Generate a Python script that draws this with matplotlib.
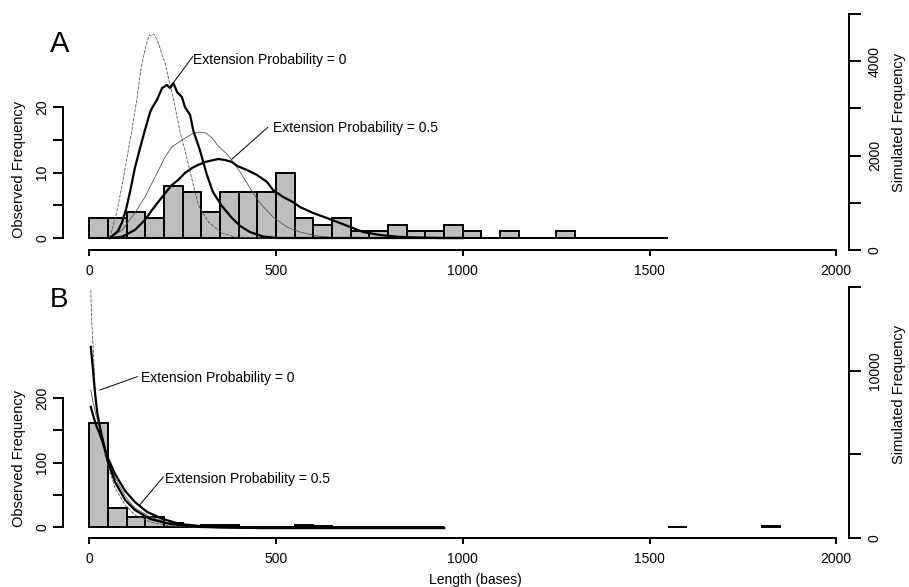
import numpy as np
import matplotlib
matplotlib.use('Agg')
import matplotlib.pyplot as plt

plt.rcParams['font.family'] = ['Liberation Sans', 'DejaVu Sans']

# Наблюдаемые частоты (бины по 50 оснований)
bin_width = 50
obs_a = [3, 3, 4, 3, 8, 7, 4, 7, 7, 7, 10, 3, 2, 3, 1, 1, 2, 1, 1, 2,
         1, 0, 1, 0, 0, 1, 0, 0, 0, 0, 0]
obs_b = [162, 29, 16, 16, 7, 2, 4, 3, 1, 1, 1, 4, 2, 0, 1, 1, 0, 1, 1]
obs_b_extra_start = [1550, 1800]
obs_b_extra = [1, 2]

# Смоделированные частоты, панель A
a_p0_thin_x = [55, 73, 87, 100, 114, 127, 138, 145, 152, 161, 165, 173, 179, 185,
               195, 203, 213, 225, 234, 243, 256, 274, 292, 319, 355, 390, 475, 1000]
a_p0_thin_y = [254, 784, 1335, 1907, 2542, 3178, 3814, 4089, 4343, 4555, 4534, 4576,
               4492, 4386, 4131, 3962, 3602, 3220, 2860, 2500, 2119, 1525, 953, 593,
               360, 275, 254, 254]
a_p0_x = [55, 77, 88, 98, 109, 122, 136, 149, 163, 168, 181, 195, 208, 216, 225,
          235, 248, 256, 270, 278, 296, 315, 331, 355, 382, 404, 430, 465, 503, 1000]
a_p0_y = [254, 403, 593, 847, 1229, 1737, 2161, 2542, 2924, 3008, 3178, 3432, 3496,
          3432, 3538, 3347, 3242, 3030, 2860, 2542, 2119, 1589, 1229, 932, 678, 508,
          381, 286, 254, 254]
a_p05_thin_x = [55, 88, 122, 149, 176, 203, 221, 248, 275, 296, 312, 329, 345, 371,
                404, 430, 457, 492, 529, 564, 610, 653, 744, 1000]
a_p05_thin_y = [254, 424, 784, 1123, 1547, 1970, 2182, 2331, 2458, 2500, 2479, 2373,
                2203, 2013, 1653, 1314, 996, 699, 487, 381, 297, 265, 254, 254]
a_p05_x = [55, 88, 122, 149, 168, 195, 221, 238, 256, 275, 291, 310, 345, 363, 382,
           396, 422, 449, 476, 492, 519, 545, 564, 599, 636, 671, 706, 733, 778, 824,
           859, 939, 1000]
a_p05_y = [254, 282, 424, 636, 847, 1123, 1377, 1483, 1631, 1737, 1801, 1864, 1928,
           1907, 1864, 1780, 1695, 1589, 1441, 1271, 1123, 1017, 911, 784, 678, 572,
           466, 381, 318, 282, 269, 254, 254]

# Смоделированные частоты, панель B
b_p0_thin_x = [4, 6, 11, 15, 21, 29, 39, 50, 69, 96, 122, 163, 216, 296, 457, 950]
b_p0_thin_y = [14842, 13164, 11127, 9150, 7352, 6334, 5255, 4297, 2979, 1960, 1361,
               941, 701, 611, 581, 581]
b_p0_x = [4, 10, 15, 21, 29, 39, 50, 69, 96, 122, 163, 216, 296, 457, 950]
b_p0_y = [11427, 10049, 8731, 7532, 6573, 5555, 4536, 3338, 2259, 1660, 1121, 821,
          641, 581, 581]
b_p05_thin_x = [4, 10, 18, 29, 39, 50, 69, 96, 122, 163, 203, 270, 377, 564, 950]
b_p05_thin_y = [8850, 8131, 7352, 6573, 5734, 4776, 3578, 2499, 1780, 1240, 941, 701,
                611, 581, 581]
b_p05_x = [4, 10, 18, 29, 39, 50, 69, 96, 122, 155, 197, 243, 323, 457, 950]
b_p05_y = [7832, 7352, 6753, 6154, 5495, 4776, 3818, 2798, 2139, 1540, 1121, 821,
           641, 581, 581]

label0 = 'Extension Probability = 0'
label05 = 'Extension Probability = 0.5'

W, H = 909, 587
fig = plt.figure(figsize=(W / 100, H / 100), dpi=100)


def make_panel(top_px, bottom_px, ylim_left, ylim_right):
    ax = fig.add_axes([63 / W, 1 - bottom_px / H, (849 - 63) / W, (bottom_px - top_px) / H])
    ax.set_xlim(-70.4, 2034)
    ax.set_ylim(*ylim_left)
    ax2 = ax.twinx()
    ax2.set_ylim(*ylim_right)
    for s in ['top', 'right']:
        ax.spines[s].set_visible(False)
    for s in ['top', 'left', 'bottom']:
        ax2.spines[s].set_visible(False)
    for a in (ax, ax2):
        for s in a.spines.values():
            s.set_linewidth(1.4)
    ax.spines['bottom'].set_bounds(0, 2000)
    ax.set_xticks([0, 500, 1000, 1500, 2000])
    ax.tick_params(axis='x', direction='out', length=4, width=1.4, pad=6, labelsize=10)
    ax.tick_params(axis='y', direction='out', length=7, width=1.4, pad=3, labelsize=10,
                   labelrotation=90)
    ax2.tick_params(axis='y', direction='out', length=8.5, width=1.4, pad=5, labelsize=10,
                    labelrotation=90)
    for t in ax.get_yticklabels() + ax2.get_yticklabels():
        t.set_va('center')
    return ax, ax2


# Панель A
axA, axA2 = make_panel(14, 250, (-1.83, 34.2), (0, 5000))
xa = np.arange(len(obs_a)) * bin_width
axA.bar(xa, obs_a, width=bin_width, align='edge', color='#bebebe',
        edgecolor='black', linewidth=1.4)
axA.spines['left'].set_bounds(0, 20)
axA.set_yticks([0, 5, 10, 15, 20])
axA.set_yticklabels(['0', '', '10', '', '20'])
axA2.spines['right'].set_bounds(0, 5000)
axA2.set_yticks([0, 1000, 2000, 3000, 4000, 5000])
axA2.set_yticklabels(['0', '', '2000', '', '4000', ''])
axA2.plot(a_p0_thin_x, a_p0_thin_y, color='#555555', lw=0.6, dashes=(4, 1.5))
axA2.plot(a_p05_thin_x, a_p05_thin_y, color='#555555', lw=0.6)
axA2.plot(a_p0_x, a_p0_y, color='black', lw=1.6)
axA2.plot(a_p05_x, a_p05_y, color='black', lw=1.6)
axA.text(278, 27.2, label0, ha='left', va='center', fontsize=10)
axA.plot([277, 225], [27.7, 23.7], color='black', lw=0.7, clip_on=False)
axA.text(491, 16.8, label05, ha='left', va='center', fontsize=10)
axA.plot([478, 381], [16.9, 12.0], color='black', lw=0.7, clip_on=False)

# Панель B
axB, axB2 = make_panel(287.3, 537.7, (-16.3, 371.4), (0, 15000))
xb = np.arange(len(obs_b)) * bin_width
axB.bar(xb, obs_b, width=bin_width, align='edge', color='#bebebe',
        edgecolor='black', linewidth=1.4)
axB.bar(obs_b_extra_start, obs_b_extra, width=bin_width, align='edge', color='#bebebe',
        edgecolor='black', linewidth=1.4)
axB.spines['left'].set_bounds(0, 200)
axB.set_yticks([0, 50, 100, 150, 200])
axB.set_yticklabels(['0', '', '100', '', '200'])
axB2.spines['right'].set_bounds(0, 15000)
axB2.set_yticks([0, 5000, 10000, 15000])
axB2.set_yticklabels(['0', '', '10000', ''])
axB2.plot(b_p0_thin_x, b_p0_thin_y, color='#555555', lw=0.6, dashes=(4, 1.5))
axB2.plot(b_p05_thin_x, b_p05_thin_y, color='#555555', lw=0.6)
axB2.plot(b_p0_x, b_p0_y, color='black', lw=1.6)
axB2.plot(b_p05_x, b_p05_y, color='black', lw=1.6)
axB.text(138, 231, label0, ha='left', va='center', fontsize=10)
axB.plot([128.5, 28.6], [233, 212.4], color='black', lw=0.7, clip_on=False)
axB.text(203, 74, label05, ha='left', va='center', fontsize=10)
axB.plot([198, 134], [77.7, 33.7], color='black', lw=0.7, clip_on=False)

# Подписи
fig.text(60 / W, 1 - 44 / H, 'A', fontsize=21, ha='center', va='center')
fig.text(59 / W, 1 - 300 / H, 'B', fontsize=20, ha='center', va='center')
fig.text(19 / W, 1 - 169 / H, 'Observed Frequency', rotation=90, fontsize=10.5,
         ha='center', va='center')
fig.text(19 / W, 1 - 458 / H, 'Observed Frequency', rotation=90, fontsize=10.5,
         ha='center', va='center')
fig.text(899 / W, 1 - 122 / H, 'Simulated Frequency', rotation=90, fontsize=10.5,
         ha='center', va='center')
fig.text(899 / W, 1 - 394 / H, 'Simulated Frequency', rotation=90, fontsize=10.5,
         ha='center', va='center')
fig.text(475 / W, 1 - 580 / H, 'Length (bases)', fontsize=10, ha='center', va='center')

fig.savefig('out.png', dpi=100)
